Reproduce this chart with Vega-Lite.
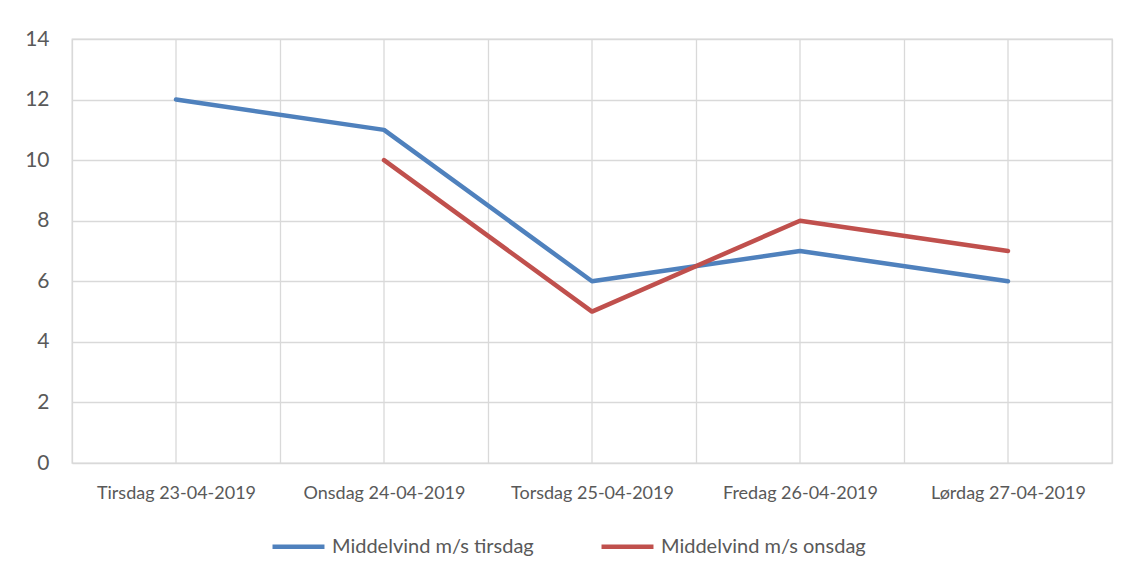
{
  "$schema": "https://vega.github.io/schema/vega-lite/v6.json",
  "width": 1040,
  "height": 424,
  "autosize": {"type": "none"},
  "padding": {"left": 72, "top": 39, "right": 19, "bottom": 115},
  "background": "white",
  "config": {
    "font": "Lato",
    "view": {"stroke": "#d9d9d9", "strokeWidth": 1.3},
    "axis": {"labelFont": "Lato", "labelColor": "#595959", "labelFontSize": 18, "gridColor": "#d9d9d9", "gridWidth": 1.3, "domain": false, "ticks": false},
    "legend": {"labelFont": "Lato", "labelColor": "#595959", "labelFontSize": 20, "labelLimit": 0}
  },
  "data": {
    "values": [
      {"dag": "Tirsdag 23-04-2019", "serie": "Middelvind m/s tirsdag", "vind": 12},
      {"dag": "Onsdag 24-04-2019", "serie": "Middelvind m/s tirsdag", "vind": 11},
      {"dag": "Torsdag 25-04-2019", "serie": "Middelvind m/s tirsdag", "vind": 6},
      {"dag": "Fredag 26-04-2019", "serie": "Middelvind m/s tirsdag", "vind": 7},
      {"dag": "Lørdag 27-04-2019", "serie": "Middelvind m/s tirsdag", "vind": 6},
      {"dag": "Tirsdag 23-04-2019", "serie": "Middelvind m/s onsdag", "vind": null},
      {"dag": "Onsdag 24-04-2019", "serie": "Middelvind m/s onsdag", "vind": 10},
      {"dag": "Torsdag 25-04-2019", "serie": "Middelvind m/s onsdag", "vind": 5},
      {"dag": "Fredag 26-04-2019", "serie": "Middelvind m/s onsdag", "vind": 8},
      {"dag": "Lørdag 27-04-2019", "serie": "Middelvind m/s onsdag", "vind": 7}
    ]
  },
  "layer": [
    {
      "mark": {"type": "rule", "color": "#d9d9d9", "strokeWidth": 1.3},
      "transform": [{"filter": "datum.serie === 'Middelvind m/s tirsdag'"}],
      "encoding": {
        "x": {"field": "dag", "type": "nominal", "sort": null, "bandPosition": 0.5,
              "scale": {"type": "band", "paddingInner": 0, "paddingOuter": 0},
              "axis": {"title": null, "labelAngle": 0, "tickBand": "extent", "grid": true, "labelPadding": 21}}
      }
    },
    {
      "mark": {"type": "line", "strokeWidth": 4.5, "strokeCap": "round", "strokeJoin": "round"},
      "transform": [{"filter": "datum.vind !== null"}],
      "encoding": {
        "x": {"field": "dag", "type": "nominal", "sort": null, "bandPosition": 0.5},
        "y": {"field": "vind", "type": "quantitative",
              "scale": {"domain": [0, 14], "nice": false},
              "axis": {"title": null, "values": [0, 2, 4, 6, 8, 10, 12, 14], "labelPadding": 23, "labelFontSize": 21}},
        "color": {"field": "serie", "type": "nominal", "sort": ["Middelvind m/s tirsdag", "Middelvind m/s onsdag"],
                  "scale": {"range": ["#4f81bd", "#c0504d"]},
                  "legend": {"title": null, "orient": "none", "direction": "horizontal", "legendX": 198, "legendY": 479,
                             "symbolType": "stroke", "symbolSize": 2700, "symbolStrokeWidth": 4.5, "columnPadding": 58, "labelOffset": 5}}
      }
    }
  ]
}
